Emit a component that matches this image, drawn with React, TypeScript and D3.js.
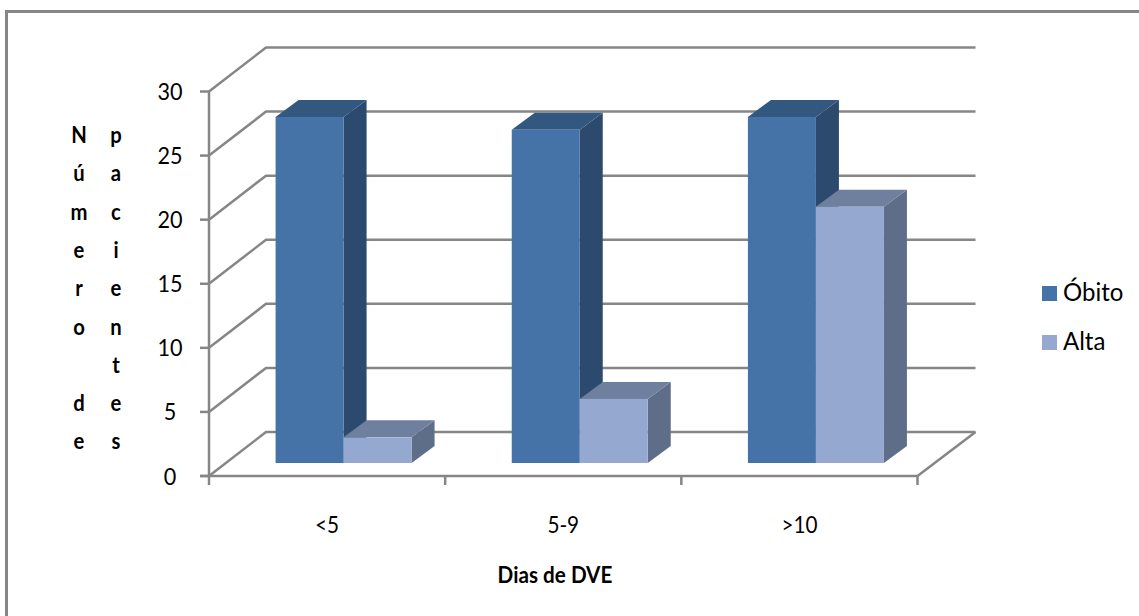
import React from "react";
import * as d3 from "d3";

const categories = ["<5", "5-9", ">10"];
const seriesNames = ["Óbito", "Alta"];
const obito = [27, 26, 27];
const alta = [2, 5, 20];
const ticks = [0, 5, 10, 15, 20, 25, 30];
const titleLeft = ["N", "ú", "m", "e", "r", "o", "", "d", "e"];
const titleRight = ["p", "a", "c", "i", "e", "n", "t", "e", "s"];

const FONT = "Lato, Carlito, 'Open Sans', sans-serif";
const GRID = "#868686";
const palettes = [
  { front: "#4572A7", side: "#2C4A6E", top: "#335880" },
  { front: "#95A9D0", side: "#5F6E88", top: "#6F809F" },
];

// Oblique projection: depth shifts points right and up.
const DEPTH_X = 57;
const DEPTH_Y = -44;
const BAR_DEPTH_X = 23;
const BAR_DEPTH_Y = -17;
const BAR_BASE_OFFSET = 13;
const BAR_W = 68;
const BAR_SHIFT = 16.5;

// Text condensed horizontally, since the installed humanist face runs wide.
function Label({ x, y, size, squeeze = 0.9, anchor = "middle", bold = false, children }: any) {
  return (
    <text
      transform={`translate(${x},${y}) scale(${squeeze},1)`}
      textAnchor={anchor}
      fontSize={size}
      fontWeight={bold ? 700 : 400}
      fill="#000"
    >
      {children}
    </text>
  );
}

export default function App() {
  const y = d3.scaleLinear().domain([0, 30]).range([476, 91.5]);
  const x = d3.scaleBand().domain(categories).range([209, 917.5]);
  const groupOffset = (x.bandwidth() - 2 * BAR_W) / 2 + BAR_SHIFT;

  const closed = (pts: [number, number][]) => d3.line()(pts) + "Z";
  const series = [obito, alta];

  return (
    <svg width={1139} height={616} style={{ position: "fixed", left: 0, top: 0, background: "#fff" }} fontFamily={FONT}>
      {/* Chart frame: only the top and left edges fall inside the canvas */}
      <path d="M6.5,616V11.5H1139" fill="none" stroke={GRID} strokeWidth={3} />

      {/* Walls of the 3D plot: gridlines on the back and left sides */}
      {ticks.map((t) => (
        <g key={t} fill="none" stroke={GRID} strokeWidth={2.5}>
          <path d={d3.line()([[209, y(t)], [209 + DEPTH_X, y(t) + DEPTH_Y], [975.5, y(t) + DEPTH_Y]]) as string} />
          <line x1={200} x2={209} y1={y(t)} y2={y(t)} />
        </g>
      ))}
      <line x1={209} x2={209} y1={y(30)} y2={485} stroke={GRID} strokeWidth={2.5} />
      <line x1={200} x2={917.5} y1={y(0)} y2={y(0)} stroke={GRID} strokeWidth={2.5} />
      <line x1={917.5} x2={975.5} y1={y(0)} y2={y(0) + DEPTH_Y} stroke={GRID} strokeWidth={2.5} />
      {categories.map((c) => (
        <line key={c} x1={(x(c) as number) + x.bandwidth()} x2={(x(c) as number) + x.bandwidth()} y1={y(0)} y2={485} stroke={GRID} strokeWidth={2.5} />
      ))}

      {/* Columns, Alta drawn over Óbito's side face */}
      {categories.map((c, ci) =>
        series.map((vals, si) => {
          const x0 = (x(c) as number) + groupOffset + si * BAR_W;
          const x1 = x0 + BAR_W;
          const base = y(0) - BAR_BASE_OFFSET;
          const top = y(vals[ci]) - BAR_BASE_OFFSET;
          const p = palettes[si];
          return (
            <g key={c + si}>
              <path d={closed([[x1, top], [x1 + BAR_DEPTH_X, top + BAR_DEPTH_Y], [x1 + BAR_DEPTH_X, base + BAR_DEPTH_Y], [x1, base]])} fill={p.side} />
              <path d={closed([[x0, top], [x0 + BAR_DEPTH_X, top + BAR_DEPTH_Y], [x1 + BAR_DEPTH_X, top + BAR_DEPTH_Y], [x1, top]])} fill={p.top} />
              <rect x={x0} y={top} width={BAR_W} height={base - top} fill={p.front} />
            </g>
          );
        })
      )}

      {/* Value axis labels */}
      {ticks.map((t) => (
        <Label key={t} x={170} y={y(t) + 8.5} size={24}>{t}</Label>
      ))}

      {/* Category labels */}
      {categories.map((c) => (
        <Label key={c} x={(x(c) as number) + x.bandwidth() / 2} y={533} size={23}>{c}</Label>
      ))}

      {/* Axis titles */}
      {titleLeft.map((ch, i) => (
        <Label key={i} x={79} y={143 + i * 38.3} size={22.5} bold>{ch}</Label>
      ))}
      {titleRight.map((ch, i) => (
        <Label key={i} x={116} y={143 + i * 38.3} size={22.5} bold>{ch}</Label>
      ))}
      <Label x={555} y={583} size={22.5} squeeze={0.92} bold>Dias de DVE</Label>

      {/* Legend */}
      {seriesNames.map((s, i) => (
        <g key={s}>
          <rect x={1042} y={286 + i * 49} width={15} height={15} fill={palettes[i].front} />
          <Label x={1063} y={300.5 + i * 49} size={25} squeeze={0.96} anchor="start">{s}</Label>
        </g>
      ))}
    </svg>
  );
}
